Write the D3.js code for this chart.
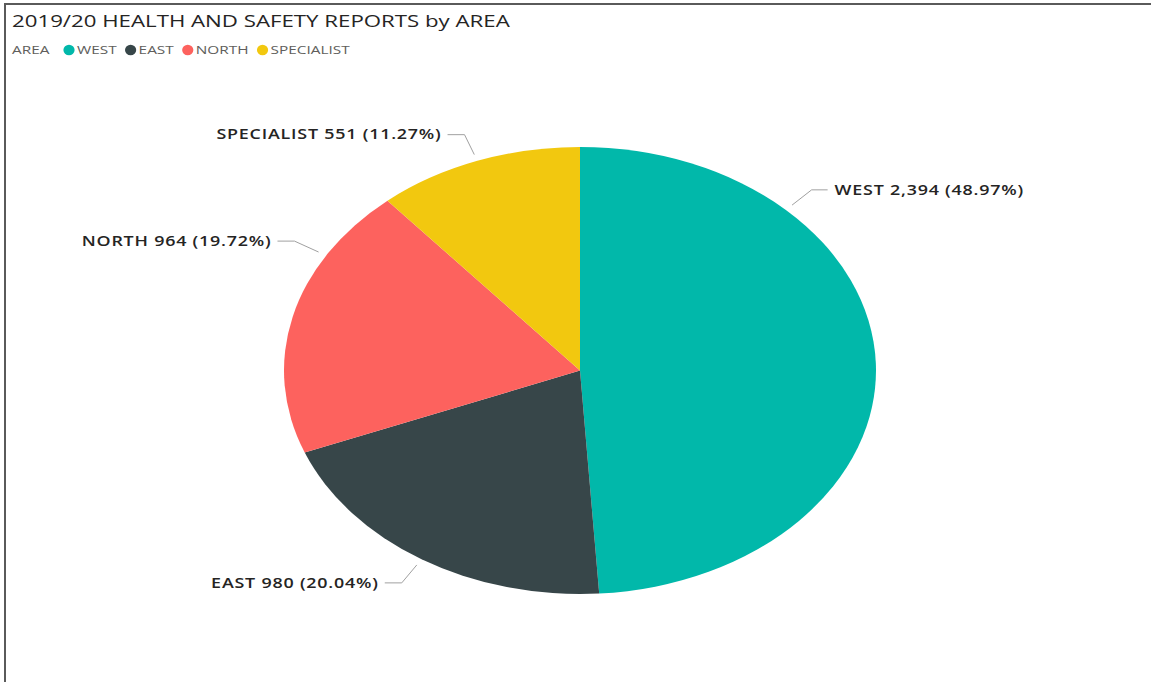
<!DOCTYPE html>
<html>
<head>
<meta charset="utf-8">
<script src="https://cdn.jsdelivr.net/npm/d3@7"></script>
<style>
  html, body { margin: 0; padding: 0; background: #fff; }
  svg { display: block; }
  text { font-family: "Open Sans", "Noto Sans", sans-serif; }
</style>
</head>
<body>
<svg id="chart" width="1151" height="682"></svg>
<script>
// Report data
const areas = ["WEST", "EAST", "NORTH", "SPECIALIST"];
const reports = [2394, 980, 964, 551];
const areaColors = ["#01B8AA", "#374649", "#FD625E", "#F2C80F"];
const chartTitle = "2019/20 HEALTH AND SAFETY REPORTS by AREA";
const legendTitle = "AREA";
// where along each slice (0..1) its callout line attaches
const calloutPosition = [0.25, 0.5, 0.74, 0.5];

const W = 1151, H = 682;
const svg = d3.select("#chart");

// visual frame (top and left edges)
svg.append("path")
  .attr("d", `M5,${H} L5,4 L${W},4`)
  .attr("fill", "none")
  .attr("stroke", "#5a5a5a")
  .attr("stroke-width", 2);

// the canvas is rendered stretched horizontally
const stretch = 296 / 223.5;

function stretchedText(sel, x, y, anchor) {
  sel.attr("transform", `translate(${x},${y}) scale(${stretch},1)`)
     .attr("text-anchor", anchor || "start");
  return sel;
}

stretchedText(svg.append("text"), 12, 26.5)
  .attr("font-size", 16.8)
  .attr("fill", "#252423")
  .text(chartTitle);

// legend
const legend = svg.append("g");
stretchedText(legend.append("text"), 12, 54)
  .attr("font-size", 11.6)
  .attr("fill", "#605E5C")
  .text(legendTitle);

let lx = 63;
areas.forEach((a, i) => {
  legend.append("ellipse")
    .attr("cx", lx + 6).attr("cy", 50)
    .attr("rx", 5.6).attr("ry", 5.2)
    .attr("fill", areaColors[i]);
  const t = stretchedText(legend.append("text"), lx + 14, 54)
    .attr("font-size", 11.6)
    .attr("fill", "#605E5C")
    .text(a);
  const w = t.node().getComputedTextLength() * stretch;
  lx = lx + 14 + w + 8;
});

// pie
const cx = 580, cy = 370.5, R = 223.5;
const total = d3.sum(reports);
const pie = d3.pie().sort(null).value(d => d);
const arcs = pie(reports);
const arc = d3.arc().innerRadius(0).outerRadius(R);

const pieG = svg.append("g")
  .attr("transform", `translate(${cx},${cy}) scale(${stretch},1)`);

pieG.selectAll("path")
  .data(arcs)
  .join("path")
  .attr("d", arc)
  .attr("fill", (d, i) => areaColors[i]);

// callouts
const fmt = d3.format(",");
const pct = d3.format(".2%");
function pt(angle, r) {
  return [cx + Math.sin(angle) * r * stretch, cy - Math.cos(angle) * r];
}

arcs.forEach((d, i) => {
  const a = d.startAngle + (d.endAngle - d.startAngle) * calloutPosition[i];
  const p0 = pt(a, R * 1.03);
  const p1 = pt(a, R * 1.125);
  const right = Math.sin(a) > 0;
  const p2 = [p1[0] + (right ? 16 : -17), p1[1]];
  svg.append("polyline")
    .attr("points", [p0, p1, p2].map(p => p.join(",")).join(" "))
    .attr("fill", "none")
    .attr("stroke", "#a0a0a0")
    .attr("stroke-width", 1);
  stretchedText(svg.append("text"), p2[0] + (right ? 7 : -6), p2[1] + 4.8, right ? "start" : "end")
    .attr("font-size", 13.5)
    .attr("font-weight", 600)
    .attr("letter-spacing", 0.6)
    .attr("fill", "#252423")
    .text(`${areas[i]} ${fmt(reports[i])} (${pct(reports[i] / total)})`);
});
</script>
</body>
</html>
